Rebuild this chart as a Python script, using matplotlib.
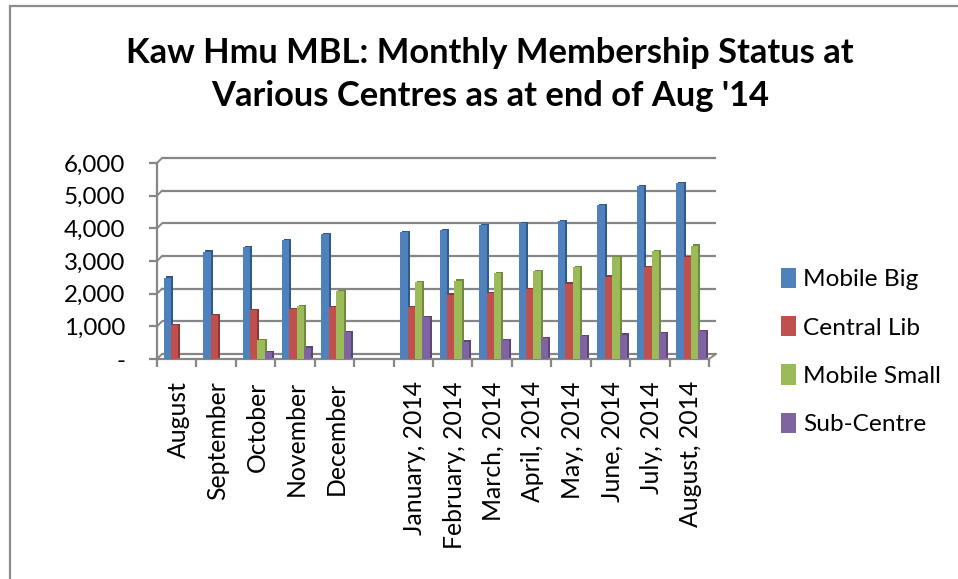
import matplotlib
matplotlib.use('Agg')
import matplotlib.pyplot as plt
import matplotlib.transforms as mtrans
from matplotlib.patches import Patch, Rectangle
import numpy as np

months = ['August', 'September', 'October', 'November', 'December', '',
          'January, 2014', 'February, 2014', 'March, 2014', 'April, 2014',
          'May, 2014', 'June, 2014', 'July, 2014', 'August, 2014']
mobile_big = [2490, 3290, 3420, 3650, 3830, 0, 3880, 3940, 4090, 4150, 4210, 4700, 5290, 5380]
central_lib = [1030, 1350, 1500, 1530, 1580, 0, 1600, 1970, 2020, 2130, 2310, 2520, 2820, 3130]
mobile_small = [0, 0, 590, 1620, 2090, 0, 2360, 2400, 2630, 2700, 2820, 3110, 3310, 3470]
sub_centre = [0, 0, 200, 350, 815, 0, 1290, 530, 590, 630, 690, 745, 795, 845]
y_ticks = [0, 1000, 2000, 3000, 4000, 5000, 6000]
y_labels = ['-', '1,000', '2,000', '3,000', '4,000', '5,000', '6,000']

names = ['Mobile Big', 'Central Lib', 'Mobile Small', 'Sub-Centre']
colors = ['#4f81bd', '#c0504d', '#9bbb59', '#8064a2']
side_colors = ['#2f5a8c', '#8c3836', '#718a41', '#5c4776']
GREY = '#868686'

plt.rcParams['font.family'] = ['Lato', 'DejaVu Sans']

W, H = 958, 579
fig = plt.figure(figsize=(W / 100, H / 100), dpi=100)

# outer chart border, only top and left are in the crop
fig.add_artist(Rectangle((10 / W, -0.1), 1.1, 0.1 + 1 - 6.5 / H, transform=fig.transFigure,
                         fill=False, edgecolor='#8c8c8c', linewidth=1.6))

fig.text(490 / W, 1 - 53 / H, 'Kaw Hmu MBL: Monthly Membership Status at',
         ha='center', va='center', fontsize=24.8, fontweight='bold', color='black')
fig.text(490 / W, 1 - 96 / H, "Various Centres as at end of Aug '14",
         ha='center', va='center', fontsize=24.8, fontweight='bold', color='black')

ax = fig.add_axes([157 / W, 1 - 359 / H, 552 / W, 196 / H])
ax.set_xlim(0, len(months))
ax.set_ylim(0, 6000)
ax.patch.set_visible(False)

# gridlines sit on the back wall of the fake 3d box
back = ax.transData + mtrans.ScaledTranslation(5 / 100, 5 / 100, fig.dpi_scale_trans)
for v in y_ticks:
    ax.plot([0, len(months) + 0.05], [v, v], transform=back, color=GREY, lw=1.6, zorder=1, clip_on=False,
            solid_capstyle='butt')
    # depth connector from front axis to back wall
    p0 = ax.transData.transform((0, v))
    p1 = back.transform((0, v))
    ax.plot([p0[0], p1[0]], [p0[1], p1[1]], transform=None, color=GREY, lw=1.4, zorder=1, clip_on=False)
p0 = ax.transData.transform((len(months), 0))
p1 = back.transform((len(months) + 0.05, 0))
ax.plot([p0[0], p1[0]], [p0[1], p1[1]], transform=None, color=GREY, lw=1.4, zorder=1, clip_on=False)

x = np.arange(len(months))
width = 0.187
start = 0.17
side = ax.transData + mtrans.ScaledTranslation(2 / 100, 1.2 / 100, fig.dpi_scale_trans)
for i, vals in enumerate([mobile_big, central_lib, mobile_small, sub_centre]):
    pos = x + start + i * width
    ax.bar(pos, vals, width, align='edge', color=side_colors[i], transform=side,
           zorder=3 + i * 2, clip_on=False)
    ax.bar(pos, vals, width, align='edge', color=colors[i], zorder=4 + i * 2, clip_on=False)

for s in ['top', 'right']:
    ax.spines[s].set_visible(False)
for s in ['left', 'bottom']:
    ax.spines[s].set_color(GREY)
    ax.spines[s].set_linewidth(1.6)

ax.set_yticks(y_ticks)
ax.set_yticklabels(y_labels)
ax.set_xticks(np.arange(len(months) + 1))
ax.set_xticklabels([])
ax.tick_params(axis='y', length=6, width=1.6, color=GREY, labelsize=17.4, pad=17)
ax.tick_params(axis='x', length=6, width=1.6, color=GREY)

for xi, label in zip(x, months):
    ax.annotate(label, (xi + 0.5, 0), xytext=(1, -16), textcoords='offset points',
                rotation=90, ha='center', va='top', fontsize=17.8, color='black',
                annotation_clip=False)

handles = [Patch(facecolor=c) for c in colors]
fig.legend(handles, names, loc='upper left', bbox_to_anchor=(776 / W, 1 - 263 / H), frameon=False,
           fontsize=17.6, handlelength=0.62, handleheight=0.9, handletextpad=0.29,
           labelspacing=1.05, borderpad=0.2, borderaxespad=0)

fig.savefig('out.png', dpi=100)
